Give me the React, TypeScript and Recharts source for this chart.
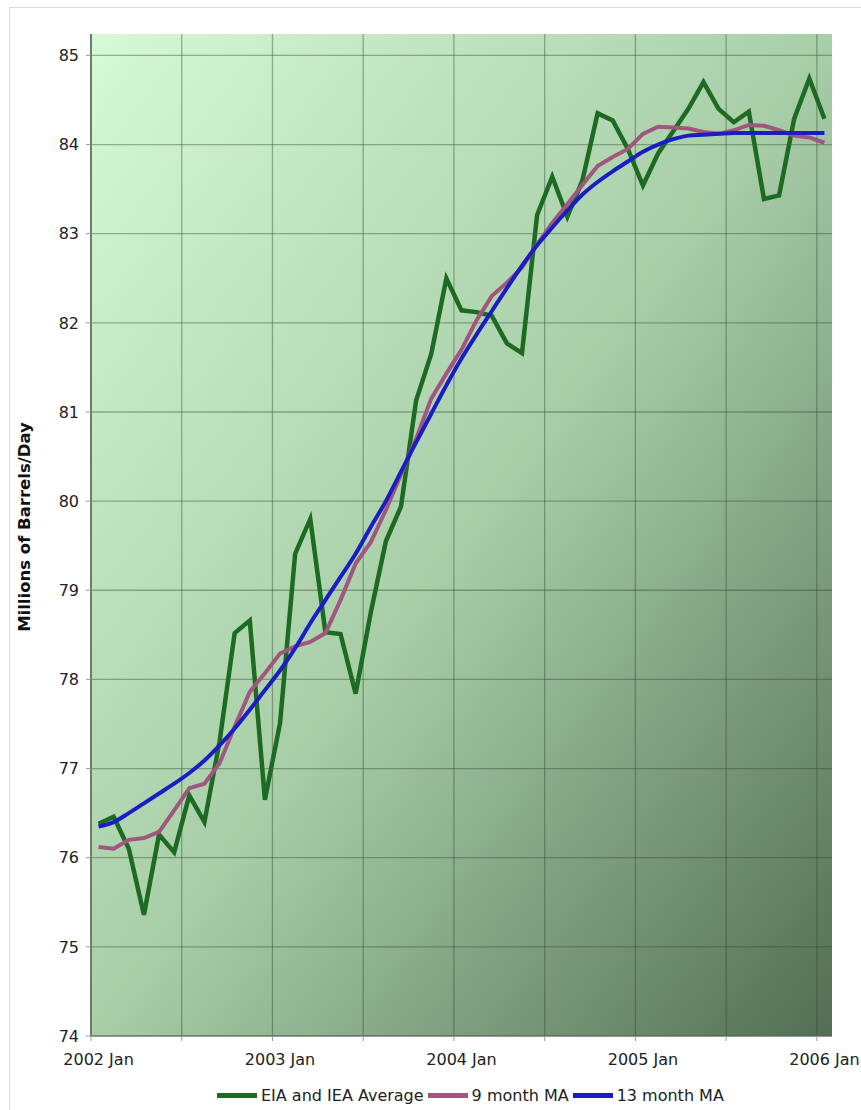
import { LineChart, Line, XAxis, YAxis, CartesianGrid, Label } from 'recharts';

// monthly points, 2002 Jan .. 2006 Jan
const months = [
  '2002-01', '2002-02', '2002-03', '2002-04', '2002-05', '2002-06', '2002-07', '2002-08', '2002-09', '2002-10', '2002-11', '2002-12',
  '2003-01', '2003-02', '2003-03', '2003-04', '2003-05', '2003-06', '2003-07', '2003-08', '2003-09', '2003-10', '2003-11', '2003-12',
  '2004-01', '2004-02', '2004-03', '2004-04', '2004-05', '2004-06', '2004-07', '2004-08', '2004-09', '2004-10', '2004-11', '2004-12',
  '2005-01', '2005-02', '2005-03', '2005-04', '2005-05', '2005-06', '2005-07', '2005-08', '2005-09', '2005-10', '2005-11', '2005-12',
  '2006-01',
];

const eiaIeaAverage = [
  76.38, 76.46, 76.1, 75.36, 76.26, 76.06, 76.7, 76.4, 77.3, 78.52, 78.66, 76.65,
  77.51, 79.41, 79.8, 78.53, 78.51, 77.84, 78.75, 79.55, 79.94, 81.13, 81.65, 82.5,
  82.14, 82.12, 82.08, 81.77, 81.66, 83.21, 83.64, 83.19, 83.6, 84.35, 84.27, 83.95,
  83.54, 83.9, 84.15, 84.4, 84.7, 84.4, 84.25, 84.37, 83.39, 83.43, 84.29, 84.74,
  84.29,
];

const nineMonthMA = [
  76.12, 76.1, 76.2, 76.22, 76.29, 76.53, 76.78, 76.83, 77.06, 77.47, 77.86, 78.07,
  78.29, 78.37, 78.42, 78.52, 78.89, 79.3, 79.54, 79.9, 80.3, 80.7, 81.15, 81.43,
  81.7, 82.03, 82.3, 82.45, 82.62, 82.88, 83.12, 83.33, 83.55, 83.76, 83.86, 83.95,
  84.12, 84.2, 84.19, 84.18, 84.14, 84.12, 84.16, 84.22, 84.21, 84.16, 84.1, 84.08,
  84.02,
];

const thirteenMonthMA = [
  76.35, 76.4, 76.5, 76.61, 76.72, 76.83, 76.95, 77.09, 77.26, 77.45, 77.66, 77.88,
  78.1, 78.35, 78.63, 78.89, 79.15, 79.41, 79.71, 80.0, 80.33, 80.66, 80.98, 81.3,
  81.6, 81.87, 82.13, 82.39, 82.64, 82.87, 83.07, 83.26, 83.44, 83.58, 83.7, 83.81,
  83.92, 84.0, 84.06, 84.1, 84.11, 84.12, 84.13, 84.13, 84.13, 84.13, 84.13, 84.13,
  84.13,
];

const yTicks = [74, 75, 76, 77, 78, 79, 80, 81, 82, 83, 84, 85];
const xTicks = [0, 6, 12, 18, 24, 30, 36, 42, 48];
const yearLabels = ['2002 Jan', '2003 Jan', '2004 Jan', '2005 Jan', '2006 Jan'];

const legendItems = [
  { name: 'EIA and IEA Average', color: '#1d6b22' },
  { name: '9 month MA', color: '#a0567e' },
  { name: '13 month MA', color: '#1c1cc4' },
];

const W = 861;
const H = 1110;
const margin = { top: 34, right: 29, bottom: 44, left: 21 };
const plotW = W - margin.left - 70 - margin.right;
const halfBand = plotW / months.length / 2;

const data = months.map((m, i) => ({
  month: m,
  pos: i + 0.5,
  eia: eiaIeaAverage[i],
  ma9: nineMonthMA[i],
  ma13: thirteenMonthMA[i],
}));

const font = '"DejaVu Sans", Verdana, sans-serif';

const XTick = ({ x, y, payload }: any) => {
  const v = payload.value;
  if (v % 12 !== 0) return <g />;
  return (
    <text x={x + halfBand} y={y} dy="0.71em" textAnchor="middle" fontSize={16} fill="#222" fontFamily={font}>
      {yearLabels[v / 12]}
    </text>
  );
};

export default function App() {
  return (
    <div style={{ position: 'absolute', left: 0, top: 0, width: W, height: H, overflow: 'hidden', background: '#fff' }}>
      <div style={{ position: 'absolute', left: 9, top: 7, width: 900, height: 1200, border: '1px solid #d9d9d9' }} />
      <div style={{ position: 'absolute', left: 0, top: 0 }}>
        <LineChart width={W} height={H} data={data} margin={margin} style={{ fontFamily: font }}>
          <defs>
            <linearGradient id="plotBg" x1="0" y1="0" x2="1" y2="1">
              <stop offset="0%" stopColor="#d6f9d6" />
              <stop offset="50%" stopColor="#a8cea8" />
              <stop offset="100%" stopColor="#536e54" />
            </linearGradient>
          </defs>
          <CartesianGrid
            fill="url(#plotBg)"
            stroke="#2f402f"
            strokeOpacity={0.4}
            strokeWidth={1.3}
            horizontalValues={yTicks}
            verticalValues={xTicks}
          />
          <XAxis
            dataKey="pos"
            type="number"
            domain={[0, months.length]}
            ticks={xTicks}
            interval={0}
            tick={<XTick />}
            tickSize={5}
            tickMargin={13}
            height={30}
            stroke="#6a6a6a"
            tickLine={{ stroke: '#999' }}
            allowDataOverflow
          />
          <XAxis
            xAxisId="top"
            orientation="top"
            dataKey="pos"
            type="number"
            domain={[0, months.length]}
            height={0}
            tick={false}
            tickLine={false}
            stroke="#9a9a9a"
          />
          <YAxis
            type="number"
            domain={[74, 85.24]}
            ticks={yTicks}
            interval={0}
            width={70}
            tickSize={5}
            tickMargin={7}
            stroke="#707a70"
            strokeWidth={2}
            tickLine={{ stroke: '#999', strokeWidth: 1 }}
            tick={{ fontSize: 16, fill: '#222' }}
            allowDataOverflow
          >
            <Label
              content={() => (
                <text
                  transform="translate(24,527) rotate(-90)"
                  textAnchor="middle"
                  dy="0.35em"
                  fontSize={16.5}
                  fontWeight="bold"
                  fill="#111"
                  fontFamily={font}
                >
                  Millions of Barrels/Day
                </text>
              )}
            />
          </YAxis>
          <YAxis
            yAxisId="right"
            orientation="right"
            domain={[74, 85.24]}
            width={0}
            tick={false}
            tickLine={false}
            stroke="#7d8c7d"
          />
          <Line type="linear" dataKey="eia" stroke="#1d6b22" strokeWidth={4.5} dot={false} isAnimationActive={false} />
          <Line type="linear" dataKey="ma9" stroke="#a0567e" strokeWidth={4} dot={false} isAnimationActive={false} />
          <Line type="monotone" dataKey="ma13" stroke="#1c1cc4" strokeWidth={4} dot={false} isAnimationActive={false} />
        </LineChart>
      </div>
      <div
        style={{
          position: 'absolute',
          left: 217,
          top: 1086,
          display: 'flex',
          alignItems: 'center',
          fontFamily: font,
          fontSize: 16,
          color: '#222',
          whiteSpace: 'nowrap',
        }}
      >
        {legendItems.map((item) => (
          <div key={item.name} style={{ display: 'flex', alignItems: 'center', marginRight: 4 }}>
            <span style={{ display: 'inline-block', width: 40, height: 5, background: item.color, marginRight: 4 }} />
            <span>{item.name}</span>
          </div>
        ))}
      </div>
    </div>
  );
}
